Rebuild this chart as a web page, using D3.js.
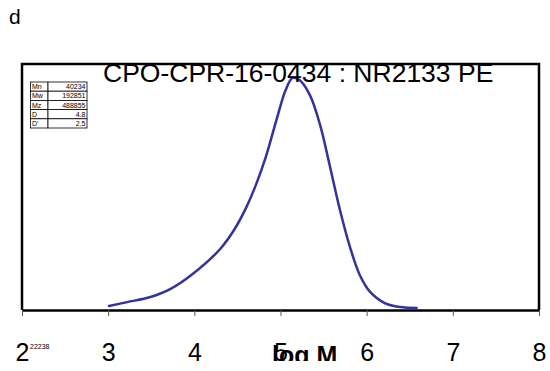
<!DOCTYPE html>
<html>
<head>
<meta charset="utf-8">
<script src="https://cdn.jsdelivr.net/npm/d3@7"></script>
<style>
  html, body { margin: 0; padding: 0; background: #fff; }
  svg { display: block; font-family: "Liberation Sans", Arial, sans-serif; }
</style>
</head>
<body>
<svg id="chart" width="550" height="371"></svg>
<script>
// Molecular weight distribution (normalised dW/dlogM) against log M
const logM = [3.01, 3.22, 3.49, 3.72, 3.98, 4.30, 4.47, 4.60, 4.70, 4.83, 4.96, 5.06, 5.14,
              5.22, 5.34, 5.46, 5.57, 5.69, 5.81, 5.92, 6.04, 6.21, 6.39, 6.58];
const wf   = [0.017, 0.034, 0.056, 0.090, 0.155, 0.263, 0.350, 0.440, 0.525, 0.660, 0.828, 0.948, 1.0,
              0.991, 0.927, 0.797, 0.625, 0.431, 0.267, 0.151, 0.078, 0.030, 0.013, 0.009];

const xTicks = [2, 3, 4, 5, 6, 7, 8];

const statLabels = ["Mn", "Mw", "Mz", "D", "D'"];
const statValues = ["40234", "192851", "488855", "4.8", "2.5"];

const chartTitle = "CPO-CPR-16-0434 : NR2133 PE";
const panelLabel = "d";
const sampleNote = "22238";
const xTitle = "log M";

const svg = d3.select("#chart");
const plotL = 22, plotR = 539, plotT = 64, plotB = 310;

const x = d3.scaleLinear().domain([2, 8]).range([plotL, plotR]);
const y = d3.scaleLinear().domain([0, 1.06]).range([plotB, plotT]);

// panel letter
svg.append("text").attr("x", 9).attr("y", 24)
  .attr("font-size", 21).attr("fill", "#000").text(panelLabel);

// plot frame
svg.append("path")
  .attr("d", `M${plotL},${plotB}V${plotT}H${plotR}V${plotB}`)
  .attr("fill", "none").attr("stroke", "#000").attr("stroke-width", 2.5);

// x axis
const ax = svg.append("g").attr("transform", `translate(0,${plotB})`)
  .call(d3.axisBottom(x).tickValues(xTicks).tickFormat(d3.format("d"))
    .tickSize(6).tickSizeOuter(0).tickPadding(27));
ax.select(".domain").attr("stroke", "#000").attr("stroke-width", 2.5);
ax.selectAll(".tick line").attr("stroke", "#555").attr("stroke-width", 1);
ax.selectAll(".tick text").attr("font-size", 25).attr("fill", "#000")
  .attr("font-family", "Liberation Sans, Arial, sans-serif");

// small sample id next to the first tick label
svg.append("text").attr("x", 30).attr("y", 349)
  .attr("font-size", 7).attr("fill", "#000").text(sampleNote);

// axis title, cut off at the lower edge of its box
svg.append("clipPath").attr("id", "xtclip")
  .append("rect").attr("x", 0).attr("y", 330).attr("width", 550).attr("height", 31);
svg.append("text").attr("x", 272).attr("y", 364)
  .attr("clip-path", "url(#xtclip)")
  .attr("font-size", 25).attr("font-weight", "bold").attr("fill", "#000")
  .text(xTitle);

// distribution curve
const line = d3.line()
  .x((d, i) => x(logM[i]))
  .y(d => y(d))
  .curve(d3.curveCatmullRom.alpha(0.5));
svg.append("path").datum(wf)
  .attr("d", line)
  .attr("fill", "none").attr("stroke", "#333399").attr("stroke-width", 2.5)
  .attr("stroke-linecap", "round");

// chart title
svg.append("text").attr("x", 103).attr("y", 82)
  .attr("font-size", 26.5).attr("fill", "#000").text(chartTitle);

// statistics table
const tx = 30.5, ty = 82, c1 = 17.5, c2 = 39, rh = 9.2;
const tbl = svg.append("g");
statLabels.forEach((lab, i) => {
  const yy = ty + i * rh;
  tbl.append("rect").attr("x", tx).attr("y", yy).attr("width", c1).attr("height", rh)
    .attr("fill", "#fff").attr("stroke", "#000").attr("stroke-width", 0.8);
  tbl.append("rect").attr("x", tx + c1).attr("y", yy).attr("width", c2).attr("height", rh)
    .attr("fill", "#fff").attr("stroke", "#000").attr("stroke-width", 0.8);
  tbl.append("text").attr("x", tx + 1.5).attr("y", yy + rh - 2)
    .attr("font-size", 7).attr("fill", "#000").text(lab);
  tbl.append("text").attr("x", tx + c1 + c2 - 1.5).attr("y", yy + rh - 2)
    .attr("text-anchor", "end").attr("font-size", 7).attr("fill", "#000").text(statValues[i]);
});
</script>
</body>
</html>
